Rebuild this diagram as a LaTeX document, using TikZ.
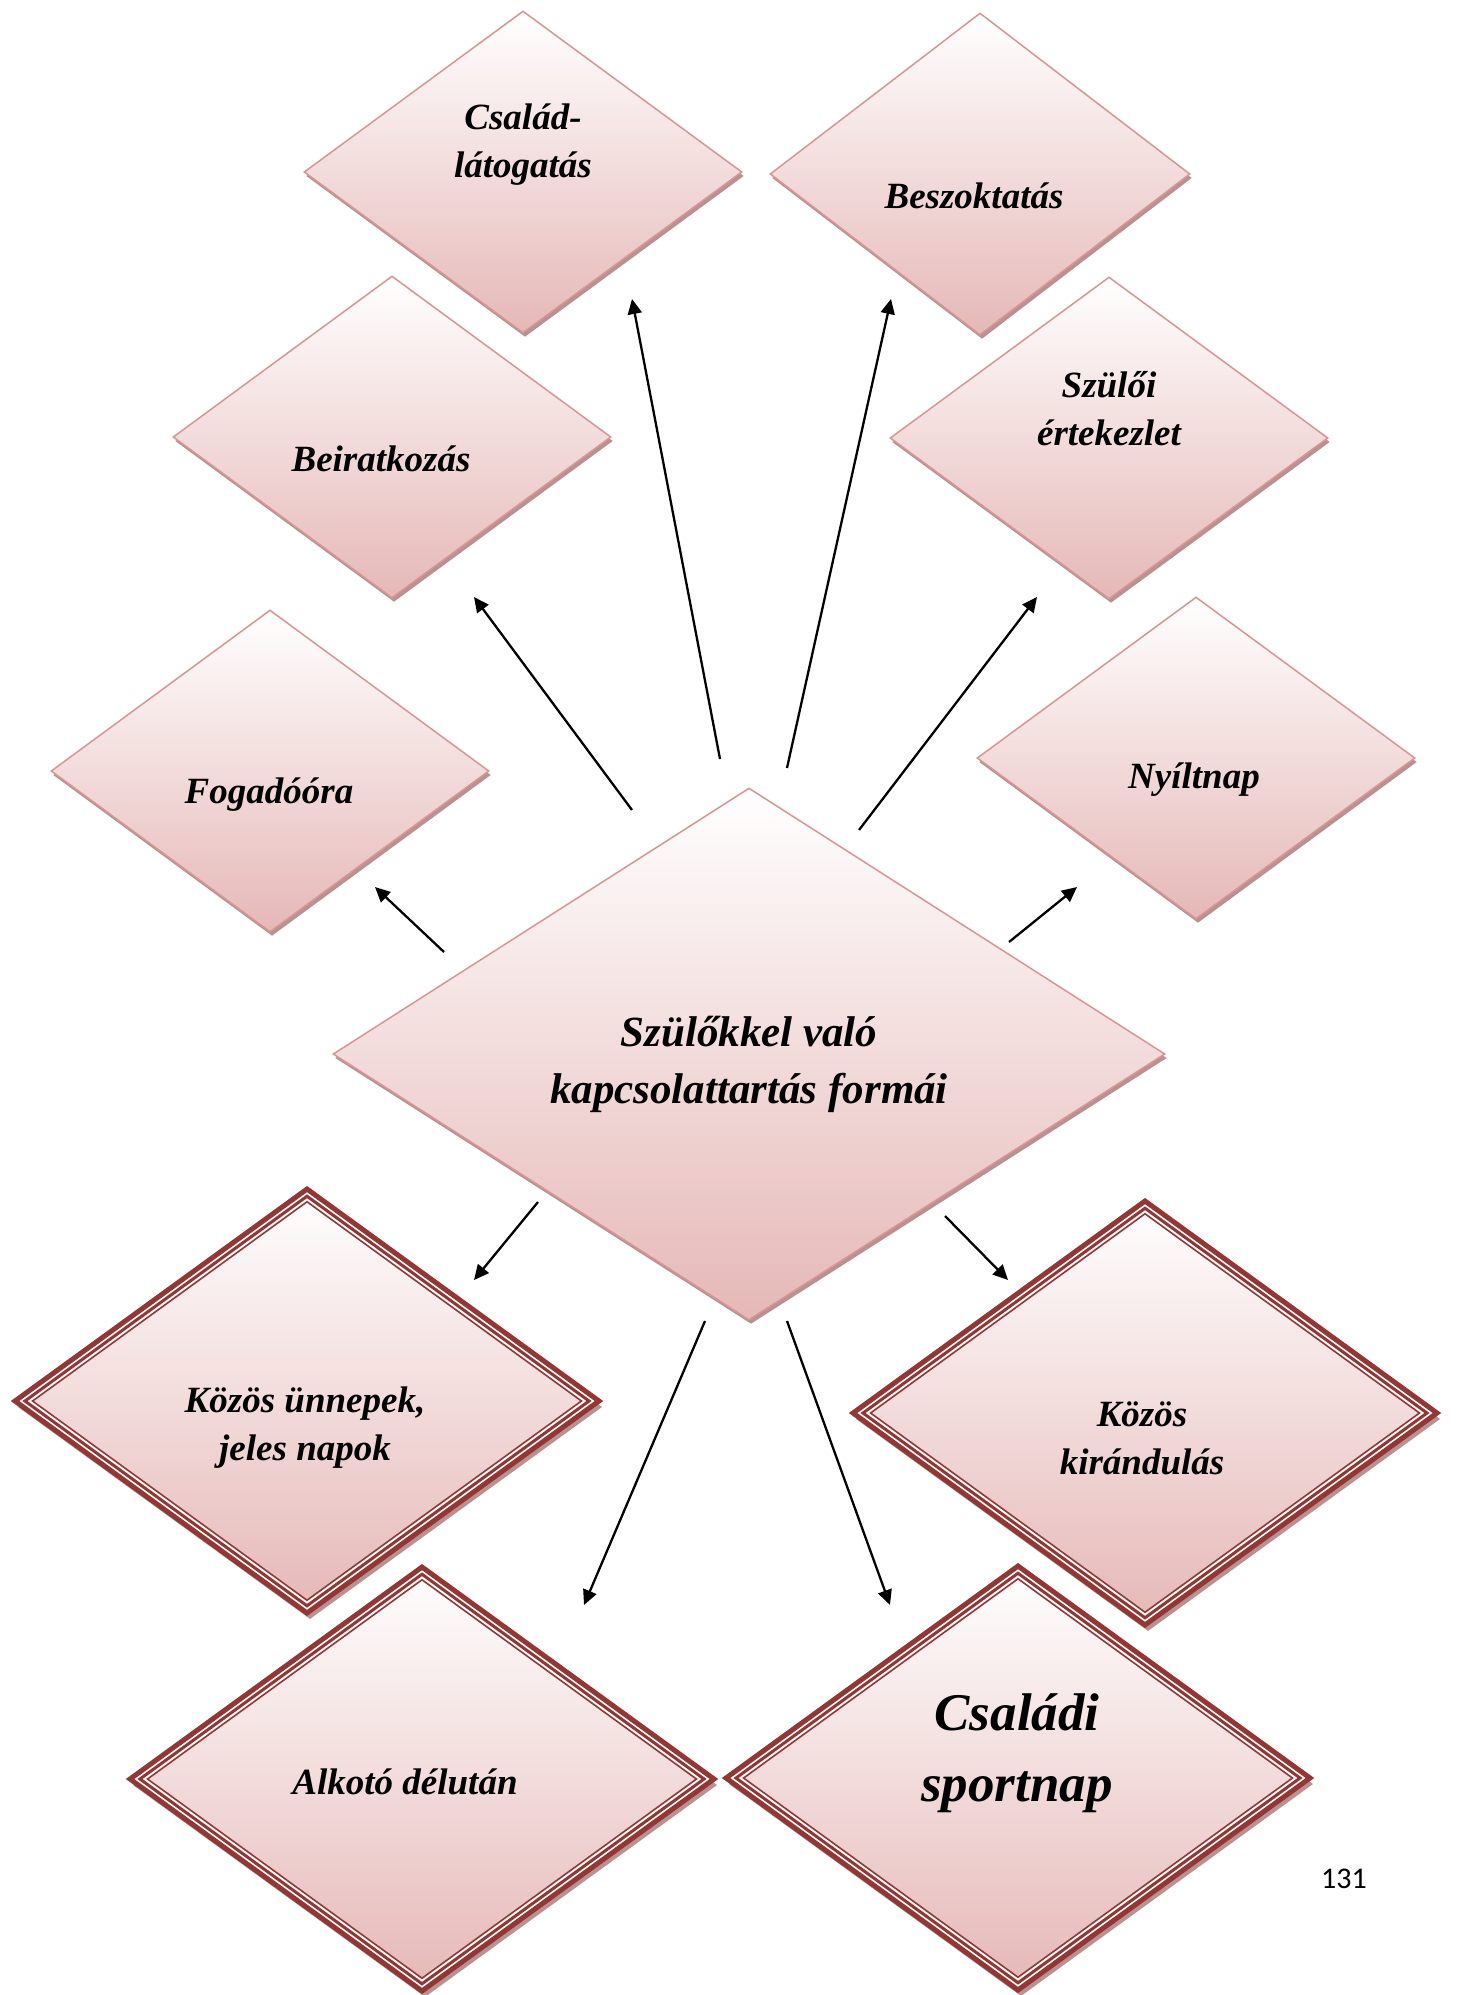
\documentclass[tikz,border=0pt]{standalone}
\usepackage{fontspec}
\setmainfont{Liberation Serif}
\newfontfamily\oldalfont{Carlito}
\usetikzlibrary{arrows.meta, positioning, shapes.geometric, shadows, calc}
\definecolor{halvany}{RGB}{217,149,148}
\definecolor{rozsa}{RGB}{229,184,183}
\definecolor{bordo}{RGB}{148,54,52}
\definecolor{arnyek}{RGB}{185,145,145}
\tikzset{%
	alap/.style={diamond, inner sep=0pt, top color=white, bottom color=rozsa},
	forma/.style={alap, draw=halvany, line width=0.75pt,
		minimum width=219pt, minimum height=161pt,
		drop shadow={shadow xshift=1pt, shadow yshift=-2pt, fill=arnyek, opacity=1}},
	keret/.style={alap, draw=bordo, line width=2.5pt,
		minimum width=293pt, minimum height=213pt,
		drop shadow={shadow xshift=1.5pt, shadow yshift=-3pt, fill=arnyek, opacity=1},
		path picture={
			\foreach \arany/\vast/\szin in {0.035/4pt/white, 0.034/1.5pt/bordo, 0.06/0.8pt/bordo}
				\draw[draw=\szin, line width=\vast]
					($(path picture bounding box.north)!\arany!(path picture bounding box.center)$) --
					($(path picture bounding box.east)!\arany!(path picture bounding box.center)$) --
					($(path picture bounding box.south)!\arany!(path picture bounding box.center)$) --
					($(path picture bounding box.west)!\arany!(path picture bounding box.center)$) -- cycle;
		}},
	felirat/.style={align=center, inner sep=0pt,
		font=\fontsize{18.5}{24}\selectfont\bfseries\itshape},
	nagyfelirat/.style={felirat, font=\fontsize{21.5}{28.5}\selectfont\bfseries\itshape},
	sportfelirat/.style={felirat, font=\fontsize{26.5}{35.5}\selectfont\bfseries\itshape},
	nyil/.style={-{Triangle[length=7.5pt, width=7pt]}, line width=1.15pt}
}
\begin{document}
\begin{tikzpicture}[x=0.5pt, y=-0.5pt]
	\useasboundingbox (0,0) rectangle (1456,1995);

	% felso rombuszok
	\node[forma]                      (csal)  at (523,172)  {};
	\node[forma, minimum width=210pt] (besz)  at (980,174)  {};
	\node[forma]                      (beir)  at (392,437)  {};
	\node[forma]                      (szul)  at (1109,438) {};
	\node[forma]                      (fog)   at (270,771)  {};
	\node[forma]                      (nyilt) at (1196,758) {};
	\node[forma, minimum width=416pt, minimum height=266pt] (kozp) at (749,1054) {};

	% also rombuszok
	\node[keret] (unnep)  at (307,1401)  {};
	\node[keret] (kirand) at (1145,1413) {};
	\node[keret] (alkot)  at (422,1779)  {};
	\node[keret] (sport)  at (1018,1778) {};

	% feliratok
	\node[felirat] (csal-t)  at ($(csal)+(0,-27)$)  {Család-\\látogatás};
	\node[felirat] (besz-t)  at ($(besz)+(-6,22)$)  {Beszoktatás};
	\node[felirat] (beir-t)  at ($(beir)+(-11,22)$) {Beiratkozás};
	\node[felirat] (szul-t)  at ($(szul)+(0,-29)$)  {Szülői\\értekezlet};
	\node[felirat] (fog-t)   at ($(fog)+(-1,24)$)   {Fogadóóra};
	\node[felirat] (nyilt-t) at ($(nyilt)+(-2,22)$) {Nyíltnap};
	\node[nagyfelirat] (kozp-t) at ($(kozp)+(0,10)$) {Szülőkkel való\\kapcsolattartás formái};
	\node[felirat] (unnep-t)  at ($(unnep)+(-2,27)$)  {Közös ünnepek,\\jeles napok};
	\node[felirat] (kirand-t) at ($(kirand)+(-3,25)$) {Közös\\kirándulás};
	\node[felirat] (alkot-t)  at ($(alkot)+(-17,3)$)  {Alkotó délután};
	\node[sportfelirat] (sport-t) at ($(sport)+(-1,-25)$) {Családi\\sportnap};

	% nyilak vegpontjai
	\coordinate (k1) at (444,952);  \coordinate (v1) at (375,887);
	\coordinate (k2) at (632,810);  \coordinate (v2) at (474,597);
	\coordinate (k3) at (720,759);  \coordinate (v3) at (632,299);
	\coordinate (k4) at (787,768);  \coordinate (v4) at (891,299);
	\coordinate (k5) at (859,830);  \coordinate (v5) at (1037,597);
	\coordinate (k6) at (1009,942); \coordinate (v6) at (1077,887);
	\coordinate (k7) at (538,1202); \coordinate (v7) at (474,1280);
	\coordinate (k8) at (945,1216); \coordinate (v8) at (1008,1280);
	\coordinate (k9) at (705,1321); \coordinate (v9) at (584,1605);
	\coordinate (k10) at (787,1321); \coordinate (v10) at (890,1605);

	\draw[nyil] (k1) -- (v1);
	\draw[nyil] (k2) -- (v2);
	\draw[nyil] (k3) -- (v3);
	\draw[nyil] (k4) -- (v4);
	\draw[nyil] (k5) -- (v5);
	\draw[nyil] (k6) -- (v6);
	\draw[nyil] (k7) -- (v7);
	\draw[nyil] (k8) -- (v8);
	\draw[nyil] (k9) -- (v9);
	\draw[nyil] (k10) -- (v10);

	\node[inner sep=0pt, font=\oldalfont\fontsize{15}{18}\selectfont] (oldal) at (1344,1879) {131};
\end{tikzpicture}
\end{document}
